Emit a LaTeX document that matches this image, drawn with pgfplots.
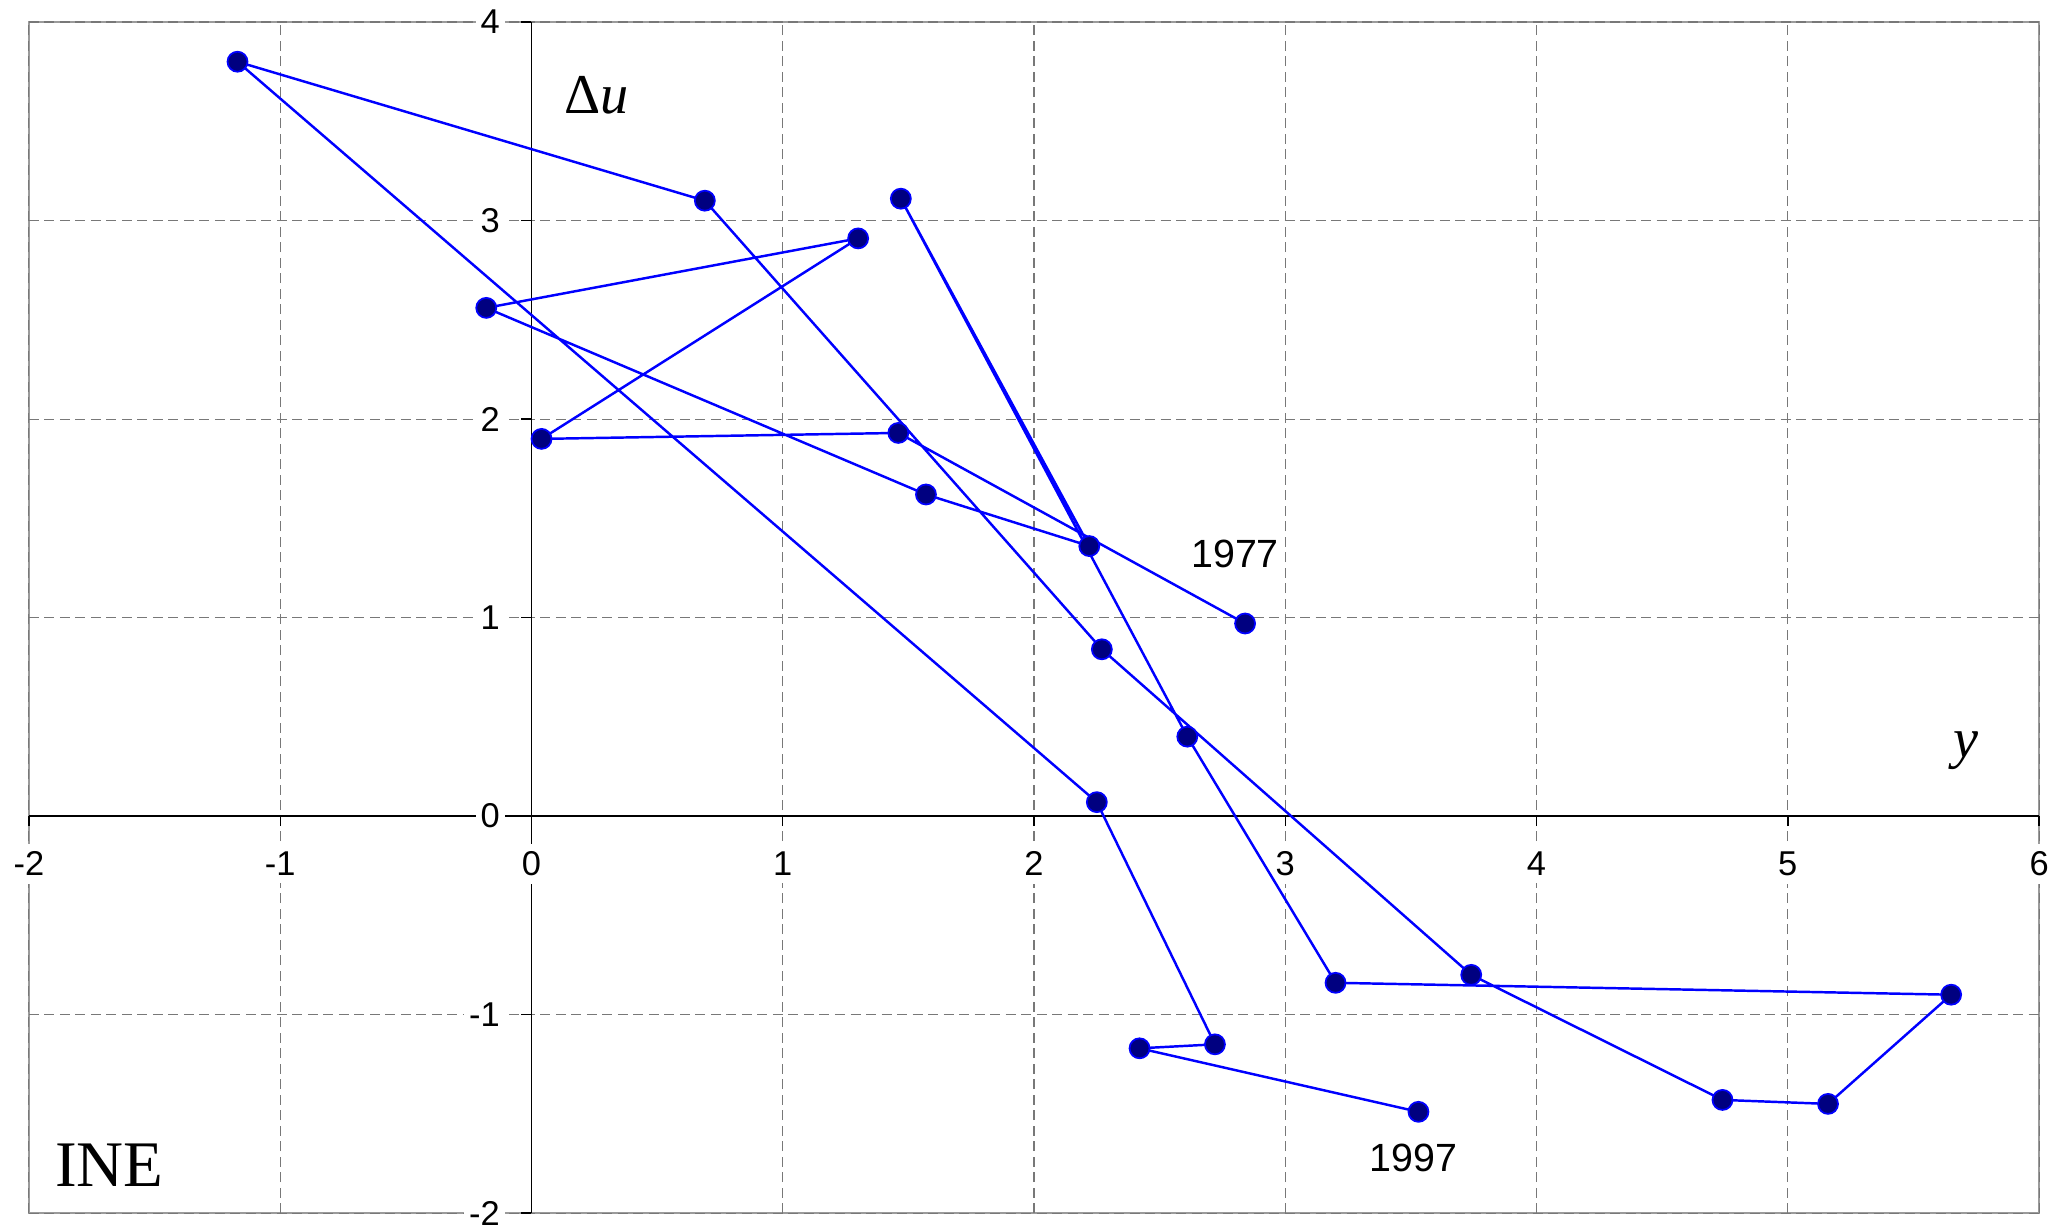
\documentclass[border=0pt]{standalone}
\usepackage{pgfplots}
\pgfplotsset{compat=1.18}
\usepackage{pgfplotstable}
\usepackage{fontspec}
\setmainfont{Liberation Sans}
\newfontfamily\serif{Liberation Serif}
\definecolor{lineblue}{RGB}{0,0,255}
\definecolor{markfill}{RGB}{0,0,128}
\definecolor{framegray}{RGB}{155,155,155}
\definecolor{gridgray}{RGB}{120,120,120}

\pgfplotstableread{
yr x y
1977 2.84 0.97
1978 1.46 1.93
1979 0.04 1.90
1980 1.30 2.91
1981 -0.18 2.56
1982 1.57 1.62
1983 2.22 1.36
1984 1.47 3.11
1985 2.61 0.40
1986 3.20 -0.84
1987 5.65 -0.90
1988 5.16 -1.45
1989 4.74 -1.43
1990 3.74 -0.80
1991 2.27 0.84
1992 0.69 3.10
1993 -1.17 3.80
1994 2.25 0.07
1995 2.72 -1.15
1996 2.42 -1.17
1997 3.53 -1.49
}\data

\begin{document}
\begin{tikzpicture}
\begin{axis}[
  scale only axis, width=20.10cm, height=11.91cm,
  xmin=-2, xmax=6, ymin=-2, ymax=4,
  axis lines=middle,
  axis line style={black, line width=0.4pt, -},
  every inner x axis line/.append style={-},
  every inner y axis line/.append style={-},
  xtick={-2,-1,0,1,2,3,4,5,6},
  xticklabels={-2,-1,0,1,2,3,4,5,6},
  ytick={-2,-1,0,1,2,3,4},
  yticklabels={-2,-1,0,1,2,3,4},
  tick align=outside, major tick length=0.1cm,
  tick style={black, line width=0.4pt},
  grid=major,
  grid style={gridgray, line width=0.3pt, dash pattern=on 0.1cm off 0.055cm},
  ticklabel style={font=\fontsize{9.8}{10}\selectfont, fill=white},
  xticklabel style={anchor=north, inner xsep=0.03cm, inner ysep=0.08cm, yshift=-0.17cm},
  yticklabel style={anchor=east, inner xsep=0.05cm, inner ysep=0.02cm, xshift=-0.16cm},
  set layers, clip=false,
]
\begin{pgfonlayer}{axis background}
\draw[framegray, line width=0.75pt] (rel axis cs:0,0) rectangle (rel axis cs:1,1);
\end{pgfonlayer}
\begin{pgfonlayer}{axis tick labels}
\node[font=\fontsize{9.8}{10}\selectfont, fill=white, anchor=north, inner xsep=0.03cm, inner ysep=0.08cm, yshift=-0.27cm] at (axis cs:0,0) {0};
\node[font=\fontsize{9.8}{10}\selectfont, fill=white, anchor=east, inner xsep=0.05cm, inner ysep=0.02cm, xshift=-0.26cm] at (axis cs:0,0) {0};
\end{pgfonlayer}
\addplot[lineblue, line width=0.7pt, mark=*, mark size=0.1cm,
  mark options={fill=markfill, draw=lineblue, line width=0.5pt}] table[x=x, y=y] {\data};
\node[font=\serif\fontsize{16}{16}\selectfont] at (axis cs:0.26,3.63) {Δ\textit{u}};
\node[font=\serif\fontsize{16}{16}\selectfont\itshape] at (axis cs:5.71,0.33) {y};
\node[font=\serif\fontsize{18.5}{18.5}\selectfont] at (axis cs:-1.68,-1.76) {INE};
\node[font=\fontsize{11.2}{12}\selectfont] at (axis cs:2.80,1.32) {1977};
\node[font=\fontsize{11.2}{12}\selectfont] at (axis cs:3.51,-1.72) {1997};
\path (rel axis cs:-0.0144,-0.0143) rectangle (rel axis cs:1.0129,1.0185);
\end{axis}
\end{tikzpicture}
\end{document}
